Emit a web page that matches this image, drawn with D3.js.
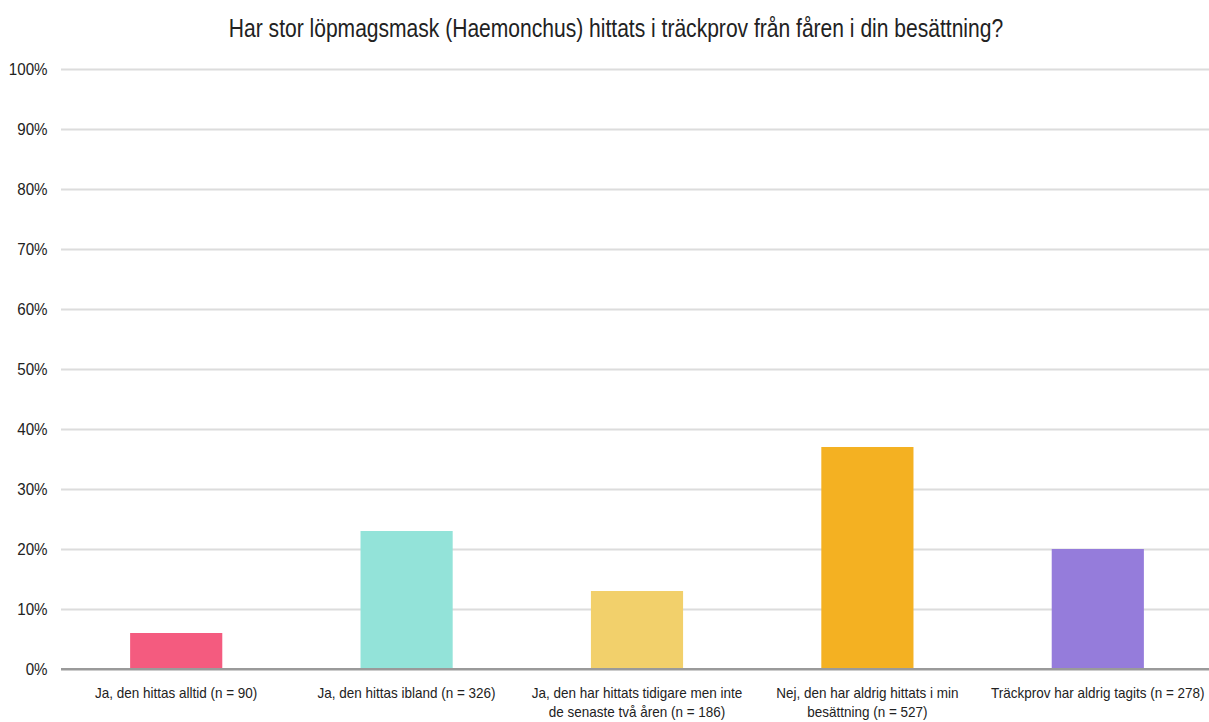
<!DOCTYPE html>
<html>
<head>
<meta charset="utf-8">
<script src="https://cdn.jsdelivr.net/npm/d3@7"></script>
<style>
  body { margin: 0; background: #fff; }
  svg text { font-family: "Liberation Sans", Arial, sans-serif; fill: #222; }
</style>
</head>
<body>
<svg id="chart"></svg>
<script>
// Chart data
const title = "Har stor löpmagsmask (Haemonchus) hittats i träckprov från fåren i din besättning?";
const categories = [
    "Ja, den hittas alltid (n = 90)",
    "Ja, den hittas ibland (n = 326)",
    "Ja, den har hittats tidigare men inte de senaste två åren (n = 186)",
    "Nej, den har aldrig hittats i min besättning (n = 527)",
    "Träckprov har aldrig tagits (n = 278)"
];
const values = [6, 23, 13, 37, 20];
const colors = ["#f45b7f", "#93e3d9", "#f2d06b", "#f4b122", "#957cdb"];
const yTicks = [0, 10, 20, 30, 40, 50, 60, 70, 80, 90, 100];

const width = 1209, height = 722;
var margin = { top: 69, right: -4, bottom: 53, left: 61 };

// No narrow font installed, so squeeze the text horizontally instead
const titleSqueeze = 0.81, tickSqueeze = 0.89, labelSqueeze = 0.9;

var svg = d3.select("#chart")
    .attr("width", width)
    .attr("height", height);

var xScale = d3.scaleBand()
    .domain(categories)
    .range([margin.left, width - margin.right])
    .paddingInner(0.6)
    .paddingOuter(0.3);

var yScale = d3.scaleLinear()
    .domain([0, 100])
    .range([height - margin.bottom, margin.top]);

// Title
svg.append("text")
    .attr("transform", `translate(616, 37) scale(${titleSqueeze}, 1)`)
    .attr("text-anchor", "middle")
    .style("font-size", "26px")
    .text(title);

// Gridlines + y labels
var yAxis = svg.append("g")
    .attr("transform", `translate(${margin.left}, 0)`)
    .call(d3.axisLeft(yScale)
        .tickValues(yTicks)
        .tickSize(-(width - margin.left))
        .tickFormat(d => d + "%"));

yAxis.select(".domain").remove();
yAxis.selectAll(".tick line")
    .attr("stroke", d => d == 0 ? "#9a9a9a" : "#dcdcdc")
    .attr("stroke-width", 2);
yAxis.selectAll(".tick text")
    .attr("x", 0)
    .attr("transform", `translate(-13.5, 0) scale(${tickSqueeze}, 1)`)
    .attr("fill", "#222")
    .style("font-size", "17px");

// Bars
svg.append("g")
    .selectAll("rect")
    .data(values)
    .join("rect")
    .attr("x", (d, i) => xScale(categories[i]))
    .attr("y", d => yScale(d))
    .attr("width", xScale.bandwidth())
    .attr("height", d => yScale(0) - yScale(d))
    .attr("fill", (d, i) => colors[i]);

// Redraw the baseline on top of the bars
svg.append("line")
    .attr("x1", margin.left)
    .attr("x2", width)
    .attr("y1", yScale(0))
    .attr("y2", yScale(0))
    .attr("stroke", "#9a9a9a")
    .attr("stroke-width", 2);

// Category labels, wrapped to the band step
var maxLabelWidth = 222;
var labels = svg.append("g")
    .selectAll("text")
    .data(categories)
    .join("text")
    .attr("transform", d => `translate(${xScale(d) + xScale.bandwidth() / 2}, ${yScale(0) + 29}) scale(${labelSqueeze}, 1)`)
    .attr("text-anchor", "middle")
    .style("font-size", "15px");

labels.each(function (d) {
    var text = d3.select(this);
    var words = d.split(" ");
    var line = [];
    var tspan = text.append("tspan").attr("x", 0).attr("dy", 0);
    words.forEach(function (w) {
        line.push(w);
        tspan.text(line.join(" "));
        if (tspan.node().getComputedTextLength() * labelSqueeze > maxLabelWidth && line.length > 1) {
            line.pop();
            tspan.text(line.join(" "));
            line = [w];
            tspan = text.append("tspan").attr("x", 0).attr("dy", 19).text(w);
        }
    });
});
</script>
</body>
</html>
